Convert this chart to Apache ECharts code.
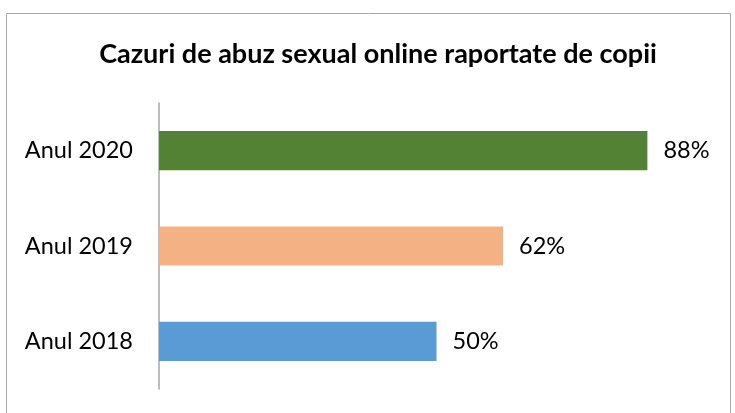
<!DOCTYPE html>
<html lang="ro">
<head>
    <meta charset="UTF-8">
    <title>Cazuri de abuz sexual online</title>
    <script src="https://cdn.jsdelivr.net/npm/echarts@6/dist/echarts.min.js"></script>
    <style>
        html, body { margin: 0; padding: 0; background: #fff; }
    </style>
</head>
<body>
    <div id="main" style="width: 735px; height: 413px"></div>
    <script type="text/javascript">
        var years = ['Anul 2018', 'Anul 2019', 'Anul 2020'];
        var values = [50, 62, 88];
        var colors = ['#5B9BD5', '#F4B183', '#548235'];

        var myChart = echarts.init(document.getElementById('main'));

        myChart.setOption({
            animation: false,
            textStyle: { fontFamily: 'Lato' },
            title: {
                text: 'Cazuri de abuz sexual online raportate de copii',
                left: 373,
                textAlign: 'center',
                top: 36,
                textStyle: {
                    fontFamily: 'Lato',
                    fontWeight: 'bold',
                    fontSize: 27,
                    color: '#000'
                }
            },
            graphic: [{
                type: 'rect',
                shape: { x: 6.5, y: 13.5, width: 724, height: 420 },
                style: { fill: 'none', stroke: '#a6a6a6', lineWidth: 1 },
                silent: true
            }],
            grid: {
                left: 159,
                top: 103,
                width: 555,
                height: 286
            },
            xAxis: {
                type: 'value',
                min: 0,
                max: 100,
                show: false
            },
            yAxis: {
                type: 'category',
                data: years,
                axisLine: { lineStyle: { color: '#a6a6a6', width: 1.5 } },
                axisTick: { show: false },
                axisLabel: {
                    margin: 26,
                    fontSize: 23.5,
                    color: '#000'
                }
            },
            series: [{
                type: 'bar',
                data: values.map(function (v, i) {
                    return { value: v, itemStyle: { color: colors[i] } };
                }),
                barCategoryGap: '59%',
                label: {
                    show: true,
                    position: 'right',
                    distance: 16,
                    fontSize: 23.5,
                    color: '#000',
                    formatter: '{c}%'
                }
            }]
        });
    </script>
</body>
</html>
